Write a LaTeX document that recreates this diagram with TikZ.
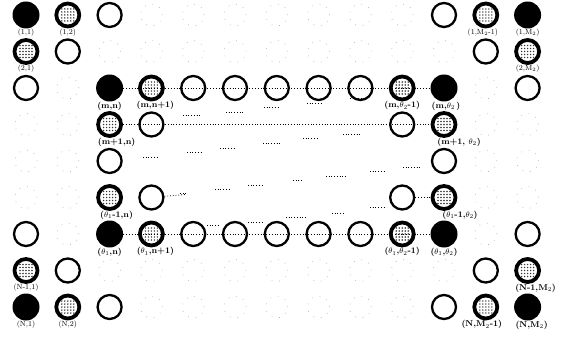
\documentclass[tikz,border=0pt]{standalone}
\usepackage{amsmath, amssymb}
\usetikzlibrary{calc}

\begin{document}
\begin{tikzpicture}[x=1pt, y=-1pt,
    blk/.style={circle, fill=black, minimum size=27pt, inner sep=0pt},
    wht/.style={circle, draw=black, line width=2.3pt, minimum size=24pt, inner sep=0pt},
    dtd/.style={circle, draw=black, line width=3.8pt, minimum size=23pt, inner sep=0pt, fill=white,
        path picture={
            \foreach \i in {-2,...,2}{
                \foreach \j in {-2,...,2}{
                    \fill[black!80] ($(path picture bounding box.center)+(\i*3,\j*3)$) circle (0.8pt);}}}},
    ghost/.style={circle, draw=black!30, line width=0.7pt, dash pattern=on 0.7pt off 7pt, minimum size=22pt},
    lab/.style={font=\bfseries\fontsize{8.5}{9}\selectfont, inner sep=0.5pt},
    sml/.style={font=\fontsize{7.5}{8}\selectfont, inner sep=0.5pt},
    link/.style={dotted, line width=0.8pt},
    label distance=-0.5pt]
    \useasboundingbox (0,0) rectangle (564,339);
    % grid of places
    \foreach \r in {0,...,8}
        \foreach \c in {0,...,12}
            \coordinate (g\r-\c) at ({26+41.8*\c},{15+36.5*\r});
    % faint places
    \foreach \r in {0,8} \foreach \c in {3,...,9} \node[ghost] at (g\r-\c) {};
    \foreach \r in {1,7} \foreach \c in {2,...,10} \node[ghost] at (g\r-\c) {};
    \foreach \r/\c in {2/1,2/11,6/1,6/11,3/0,3/1,3/11,3/12,4/0,4/1,4/11,4/12,5/0,5/1,5/11,5/12}
        \node[ghost] at (g\r-\c) {};
    % empty sites
    \foreach \p in {0-2,0-10,1-1,1-11,2-0,2-4,2-5,2-6,2-7,2-8,2-12,3-3,3-9,4-2,4-10,
                    5-3,5-9,6-0,6-4,6-5,6-6,6-7,6-8,6-12,7-1,7-11,8-2,8-10}
        \node[wht] (w\p) at (g\p) {};
    % corners
    \node[blk, label={[sml]below:{(1,1)}}] (c11) at (g0-0) {};
    \node[dtd, label={[sml]below:{(1,2)}}] (c12) at (g0-1) {};
    \node[dtd, label={[sml]below:{(2,1)}}] (c21) at (g1-0) {};
    \node[dtd, label={[sml, xshift=-3pt]below:{(1,M$_2$-1)}}] (c1M1) at (g0-11) {};
    \node[blk, label={[sml]below:{(1,M$_2$)}}] (c1M) at (g0-12) {};
    \node[dtd, label={[sml]below:{(2,M$_2$)}}] (c2M) at (g1-12) {};
    \node[dtd, label={[sml]below:{(N-1,1)}}] (cN11) at (g7-0) {};
    \node[blk, label={[sml]below:{(N,1)}}] (cN1) at (g8-0) {};
    \node[dtd, label={[sml]below:{(N,2)}}] (cN2) at (g8-1) {};
    \node[dtd, label={[lab, xshift=8pt]below:{(N-1,M$_2$)}}] (cN1M) at (g7-12) {};
    \node[dtd, label={[lab, xshift=-4pt]below:{(N,M$_2$-1)}}] (cNM1) at (g8-11) {};
    \node[blk, label={[lab, xshift=4pt]below:{(N,M$_2$)}}] (cNM) at (g8-12) {};
    % block
    \node[blk, label={[lab]below:{(m,n)}}] (mn) at (g2-2) {};
    \node[dtd, label={[lab, xshift=4pt]below:{(m,n+1)}}] (mn1) at (g2-3) {};
    \node[dtd, label={[lab]below:{(m,$\theta_2$-1)}}] (mt1) at (g2-9) {};
    \node[blk, label={[lab, xshift=2pt]below:{(m,$\theta_2$\,)}}] (mt) at (g2-10) {};
    \node[dtd, label={[lab, xshift=7pt]below:{(m+1,n)}}] (m1n) at (g3-2) {};
    \node[dtd, label={[lab, xshift=15pt]below:{(m+1, $\theta_2$)}}] (m1t) at (g3-10) {};
    \node[dtd, label={[lab, xshift=7pt]below:{($\theta_1$-1,n)}}] (t1n) at (g5-2) {};
    \node[dtd, label={[lab, xshift=16pt]below:{($\theta_1$-1,$\theta_2$)}}] (t1t) at (g5-10) {};
    \node[blk, label={[lab]below:{($\theta_1$,n)}}] (tn) at (g6-2) {};
    \node[dtd, label={[lab, xshift=4pt]below:{($\theta_1$,n+1)}}] (tn1) at (g6-3) {};
    \node[dtd, label={[lab]below:{($\theta_1$,$\theta_2$-1)}}] (tt1) at (g6-9) {};
    \node[blk, label={[lab]below:{($\theta_1$,$\theta_2$)}}] (tt) at (g6-10) {};
    % dotted rows
    \draw[link] (mn) -- (mt);
    \draw[link] (m1n) -- (m1t);
    \draw[link] (tn) -- (tt);
    \draw[link] (w5-9) -- (t1t);
    \coordinate (e5) at ($(w5-3)+(34,-3)$);
    \draw[link] (w5-3) -- (e5);
    % ellipses in between
    \foreach \a/\b/\y in {183/200/115,226/244/112,264/280/107,307/323/103,350/366/98,
                          143/157/157,187/203/152,220/235/148,263/280/143,303/317/138,343/360/134,
                          180/186/193,215/230/189,248/263/185,293/303/180,326/345/176,370/385/171,403/420/167,
                          207/220/225,248/263/222,286/305/217,332/345/213,370/386/207}
        \draw[dotted, line width=0.7pt] (\a,\y) -- (\b,\y);
\end{tikzpicture}
\end{document}
